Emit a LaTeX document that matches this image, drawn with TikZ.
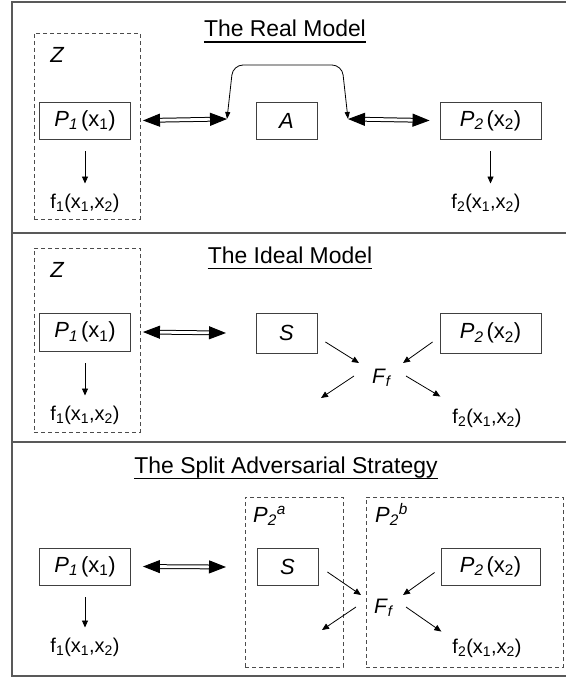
\documentclass[tikz,border=0pt]{standalone}
\usepackage{fontspec}
\setmainfont{Liberation Sans}
\usetikzlibrary{arrows.meta,calc}
\newcommand{\mypone}{\textit{P}\textsubscript{\textit{1}}\kern3bp(x\textsubscript{1})}
\newcommand{\myptwo}{\textit{P}\textsubscript{\textit{2}}\kern3bp(x\textsubscript{2})}
\newcommand{\myfone}{f\textsubscript{1}(x\textsubscript{1},x\textsubscript{2})}
\newcommand{\myftwo}{f\textsubscript{2}(x\textsubscript{1},x\textsubscript{2})}
\newcommand{\myFf}{\textit{F}\textsubscript{\textit{f}}}
\begin{document}
\begin{tikzpicture}[x=1bp,y=-1bp,
  lab/.style={font=\fontsize{20}{24}\selectfont, inner sep=0},
  ilab/.style={font=\fontsize{22}{26}\selectfont\itshape, inner sep=0},
  ttl/.style={font=\fontsize{23}{27}\selectfont, inner sep=0},
  sbox/.style={draw=black!75, line width=0.9bp, minimum height=37bp, inner sep=0, font=\fontsize{22}{26}\selectfont},
  dbox/.style={draw=black!70, line width=0.9bp, dash pattern=on 4bp off 3bp, inner sep=0},
  arr/.style={line width=0.8bp, -{Triangle[length=7bp,width=6bp]}},
  carr/.style={line width=0.8bp, {Triangle[length=7bp,width=5bp]}-{Triangle[length=7bp,width=5bp]}},
  darr/.style={line width=1bp, double, double distance=2.8bp, {Triangle[length=17bp,width=13bp]}-{Triangle[length=17bp,width=13bp]}},
  frame/.style={draw=black!65, line width=1.3bp},
  uline/.style={line width=1.6bp}]
\clip (0,0) rectangle (566,677);
% frame
\draw[frame] (12,2) rectangle (580,676);
\draw[frame] (12,233) -- (580,233);
\draw[frame] (12,442) -- (580,442);

% ===== Section 1: The Real Model
\node[ttl, anchor=base] (t1) at (285,36.5) {The Real Model};
\draw[uline] ($(t1.base west)+(0,5.5)$) -- ($(t1.base east)+(0,5.5)$);
\node[dbox, minimum width=106bp, minimum height=186bp] (z1) at (87,126) {};
\node[ilab] (zl1) at (57,55) {Z};
\node[sbox, minimum width=91bp] (p1a) at (85,120.5) {\mypone};
\node[lab] (f1a) at (85,203) {\myfone};
\draw[arr] ([yshift=-12bp]p1a.south) -- ([yshift=10bp]f1a.north);
\node[sbox, minimum width=61bp] (A) at (286.5,120.5) {\textit{A}};
\node[sbox, minimum width=101bp] (p2a) at (490.5,120.5) {\myptwo};
\node[lab] (f2a) at (486,203) {\myftwo};
\draw[arr] ([yshift=-12bp]p2a.south) -- ([yshift=10bp]p2a.south |- f2a.north);
\coordinate (c1l) at (227,119);
\coordinate (c1r) at (348,119);
\draw[darr] ([xshift=12bp]p1a.east) -- (c1l);
\draw[darr] (c1r) -- ([xshift=-10bp]p2a.west);
\draw[carr, rounded corners=10bp] (c1l) -- (233,65) -- (342,65) -- (c1r);

% ===== Section 2: The Ideal Model
\node[ttl, anchor=base] (t2) at (290,263) {The Ideal Model};
\draw[uline] ($(t2.base west)+(0,5.5)$) -- ($(t2.base east)+(0,5.5)$);
\node[dbox, minimum width=106bp, minimum height=184bp] (z2) at (87,340) {};
\node[ilab] (zl2) at (57,270) {Z};
\node[sbox, minimum width=91bp, minimum height=38bp] (p1b) at (85,332) {\mypone};
\node[lab] (f1b) at (85,415) {\myfone};
\draw[arr] ([yshift=-12bp]p1b.south) -- ([yshift=10bp]f1b.north);
\node[sbox, minimum width=61bp, minimum height=40bp] (S2) at (286.5,333) {\textit{S}};
\node[sbox, minimum width=101bp, minimum height=40bp] (p2b) at (490.5,333) {\myptwo};
\coordinate (d3e) at (226,333);
\draw[darr] ([xshift=12bp]p1b.east) -- (d3e);
\node[ilab, font=\fontsize{21}{25}\selectfont, anchor=base west] (F2) at (372,383) {\myFf};
\node[lab] (f2b) at (487,418) {\myftwo};
\coordinate (o2l) at (321,398);
\draw[arr] ($(S2.east)+(8,9)$) -- ($(F2.base west)+(-13,-20)$);
\draw[arr] ($(p2b.west)+(-7,9)$) -- ($(F2.base west)+(31,-20)$);
\draw[arr] ($(F2.base west)+(-18,-7)$) -- (o2l);
\draw[arr] ($(F2.base west)+(34,-7)$) -- ($(f2b.north west)+(-12,-12)$);

% ===== Section 3: The Split Adversarial Strategy
\node[ttl, anchor=base] (t3) at (286,473) {The Split Adversarial Strategy};
\draw[uline] ($(t3.base west)+(0,5.5)$) -- ($(t3.base east)+(0,5.5)$);
\node[sbox, minimum width=91bp] (p1c) at (85,566.5) {\mypone};
\node[lab] (f1c) at (85,647) {\myfone};
\draw[arr] ([yshift=-12bp]p1c.south) -- ([yshift=10bp]f1c.north);
\node[dbox, minimum width=98bp, minimum height=170bp] (pa) at (294,582) {};
\node[dbox, minimum width=197bp, minimum height=170bp] (pb) at (464.5,582) {};
\node[ilab, anchor=base west] (pal) at (253,522) {P\textsubscript{2}\textsuperscript{a}};
\node[ilab, anchor=base west] (pbl) at (375,522) {P\textsubscript{2}\textsuperscript{b}};
\node[sbox, minimum width=61bp] (S3) at (287.5,566.5) {\textit{S}};
\node[sbox, minimum width=99bp] (p2c) at (490.5,566.5) {\myptwo};
\coordinate (d5e) at (226,567);
\draw[darr] ([xshift=12bp]p1c.east) -- (d5e);
\node[ilab, font=\fontsize{21}{25}\selectfont, anchor=base west] (F3) at (374,613) {\myFf};
\node[lab] (f2c) at (487,648) {\myftwo};
\coordinate (o3l) at (322,630);
\draw[arr] ($(S3.east)+(9,5.5)$) -- ($(F3.base west)+(-13,-18)$);
\draw[arr] ($(p2c.west)+(-6,6)$) -- ($(F3.base west)+(29,-18)$);
\draw[arr] ($(F3.base west)+(-18,-6)$) -- (o3l);
\draw[arr] ($(F3.base west)+(32,-6)$) -- ($(f2c.north west)+(-11,-7)$);
\end{tikzpicture}
\end{document}
